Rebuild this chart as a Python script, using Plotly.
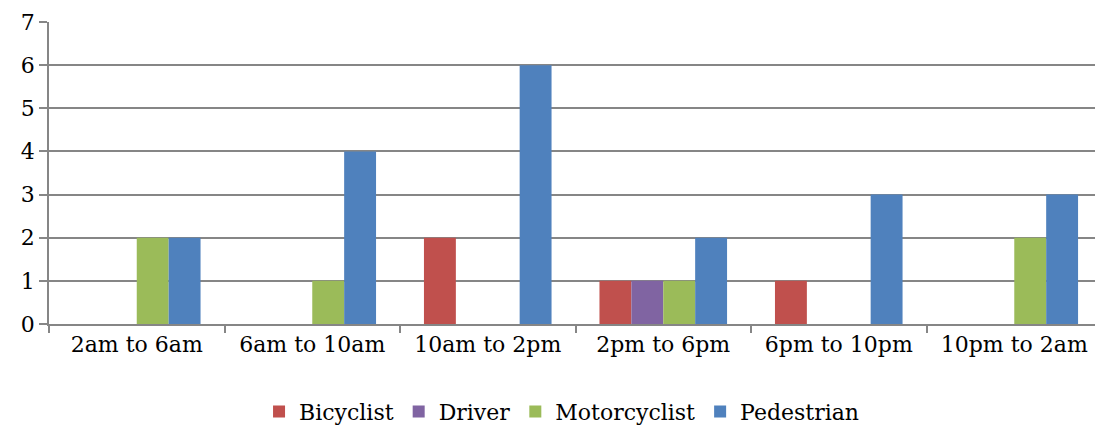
import plotly.graph_objects as go

categories = ["2am to 6am", "6am to 10am", "10am to 2pm", "2pm to 6pm", "6pm to 10pm", "10pm to 2am"]
bicyclist = [0, 0, 2, 1, 1, 0]
driver = [0, 0, 0, 1, 0, 0]
motorcyclist = [2, 1, 0, 1, 0, 2]
pedestrian = [2, 4, 6, 2, 3, 3]

series = [
    ("Bicyclist", bicyclist, "#C0504D"),
    ("Driver", driver, "#8064A2"),
    ("Motorcyclist", motorcyclist, "#9BBB59"),
    ("Pedestrian", pedestrian, "#4F81BD"),
]

fig = go.Figure()
for name, vals, col in series:
    fig.add_trace(go.Bar(x=categories, y=vals, name=name, marker=dict(color=col, line=dict(width=0))))

font = "DejaVu Serif"
fig.update_layout(
    width=1095, height=426,
    margin=dict(l=49, r=0, t=21.5, b=102, autoexpand=False),
    paper_bgcolor="white", plot_bgcolor="white",
    barmode="group", bargap=0.273, bargroupgap=0,
    font=dict(family=font, size=22, color="black"),
    showlegend=True,
    legend=dict(orientation="h", x=0.49, xanchor="center", y=-0.29, yanchor="middle",
                font=dict(family=font, size=22), itemwidth=30, tracegroupgap=0),
)
fig.update_xaxes(
    type="category", range=[-0.5, 5.46], automargin=False,
    showline=True, linecolor="#868686", linewidth=1.5,
    ticks="outside", tickson="boundaries", ticklen=7, tickcolor="#868686", tickwidth=1.5,
    showgrid=False, tickfont=dict(family=font, size=22),
)
fig.update_yaxes(
    range=[0, 7], dtick=1, automargin=False,
    showline=True, linecolor="#868686", linewidth=1.5,
    ticks="outside", ticklen=8, tickcolor="#868686", tickwidth=1.5,
    showgrid=True, gridcolor="#868686", gridwidth=1.5,
    zeroline=False, tickfont=dict(family=font, size=22),
)
fig.write_html(
    "out.html",
    config={"displayModeBar": False},
    post_script=(
        "document.body.style.margin='0';document.body.style.padding='0';"
        "document.body.style.overflow='hidden';document.documentElement.style.overflow='hidden';"
    ),
)
